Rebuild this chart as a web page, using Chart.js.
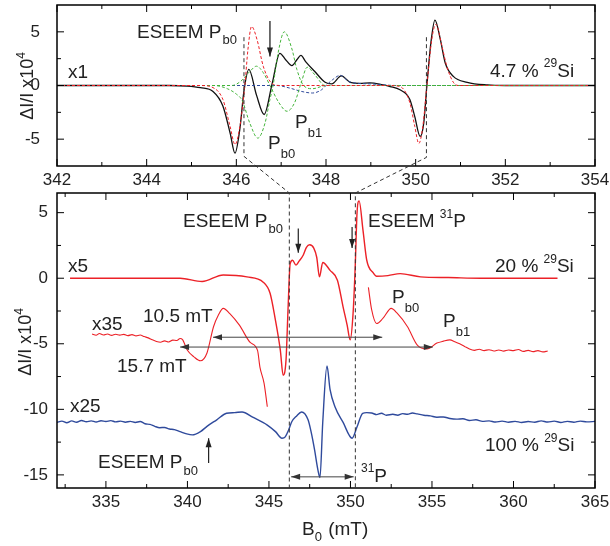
<!DOCTYPE html>
<html lang="en">
<head>
<meta charset="UTF-8">
<title>ESEEM Pb0 / 31P spectra</title>
<script src="https://cdn.jsdelivr.net/npm/chart.js@4"></script>
<style>
  body { margin: 0; background: #fff; }
  #wrap { position: relative; width: 610px; height: 546px; }
  canvas { position: absolute; left: 0; top: 0; }
</style>
</head>
<body>
<div id="wrap">
  <canvas id="topChart" width="610" height="546"></canvas>
  <canvas id="bottomChart" width="610" height="546"></canvas>
</div>
<script>
// ---- top panel (4.7 % 29Si), x1 ----
var topXTicks = [342, 344, 346, 348, 350, 352, 354];
var topXMinor = [343, 345, 347, 349, 351, 353];
var topYTicks = [-5, 0, 5];
var topYMinor = [-2.5, 2.5];

var blackX = [342, 344.5, 344.9, 345.2, 345.48, 345.7, 345.86, 345.97, 346.08, 346.17, 346.28, 346.45, 346.62, 346.8, 346.97, 347.1, 347.24, 347.35, 347.44, 347.55, 347.75, 347.98, 348.13, 348.34, 348.54, 348.75, 348.98, 349.27, 349.43, 349.65, 349.87, 349.98, 350.1, 350.18, 350.25, 350.34, 350.43, 350.55, 350.66, 350.84, 351.15, 351.6, 352, 354];
var blackY = [0, 0, -0.05, -0.2, -0.55, -1.9, -4.4, -6.3, -4.0, -0.5, 1.5, -0.9, -2.7, 0.2, 3.0, 2.4, 1.85, 2.4, 2.8, 2.2, 1.3, 0.3, 0.15, 0.9, 0.3, 0.2, 0.25, 0.05, -0.1, -0.4, -1.3, -2.9, -4.75, -3.5, 0, 4.0, 6.1, 4.3, 2.1, 0.85, 0.3, 0.05, 0, 0];

var redX = [342, 345.2, 345.48, 345.7, 345.86, 345.97, 346.08, 346.19, 346.26, 346.34, 346.46, 346.6, 346.75, 346.97, 349.4, 349.65, 349.87, 349.98, 350.07, 350.16, 350.25, 350.36, 350.45, 350.59, 350.7, 350.84, 350.95, 354];
var redY = [0, 0, -0.2, -1.3, -3.8, -5.5, -3.8, 0, 3.4, 5.5, 4.3, 1.8, 0.4, 0, 0, -0.1, -1.6, -3.8, -5.4, -3.8, 0, 4.3, 5.7, 3.6, 1.7, 0.3, 0, 0];

var greenAX = [342, 345.5, 345.8, 346.0, 346.13, 346.3, 346.48, 346.64, 346.75, 346.82, 346.93, 347.07, 347.24, 347.35, 347.5, 347.7, 348.0, 354];
var greenAY = [0, 0, -0.3, -0.8, -1.4, -3.5, -4.9, -3.5, -1.3, 0, 3.0, 5.0, 3.4, 1.5, 0, -0.3, 0, 0];

var greenBX = [342, 345.9, 346.1, 346.3, 346.45, 346.6, 346.75, 346.95, 347.13, 347.3, 347.45, 347.58, 347.75, 347.98, 354];
var greenBY = [0, 0, 0.4, 1.3, 1.8, 1.2, 0, -1.6, -2.4, -1.6, 0.3, 1.7, 1.0, 0, 0];

var blueTopX = [342, 346.9, 347.2, 347.45, 347.7, 347.9, 348.0, 348.15, 348.32, 348.5, 348.7, 349.0, 349.3, 349.6, 354];
var blueTopY = [0, 0, -0.25, -0.55, -0.7, -0.4, 0, 0.55, 0.95, 0.4, 0.2, 0.15, 0.05, 0, 0];

// ---- bottom panel ----
var botXTicks = [335, 340, 345, 350, 355, 360, 365];
var botXMinor = [332.5, 337.5, 342.5, 347.5, 352.5, 357.5, 362.5];
var botYTicks = [-15, -10, -5, 0, 5];
var botYMinor = [-12.5, -7.5, -2.5, 2.5];

// 20 % 29Si, x5
var x5X = [332.8, 336, 339.55, 340.9, 342.2, 343.65, 344.65, 345.07, 345.37, 345.7, 345.87, 346.05, 346.17, 346.3, 346.45, 346.66, 346.85, 347.1, 347.3, 347.5, 347.75, 347.93, 348.1, 348.3, 348.75, 349.2, 349.55, 349.8, 349.98, 350.16, 350.3, 350.4, 350.53, 350.77, 351.0, 351.4, 351.6, 352.3, 353.05, 354.3, 356, 358, 362.7];
var x5Y = [0, 0, 0, -0.25, 0.25, 0.1, -0.3, -1.15, -3.0, -5.5, -7.4, -6.2, -2.4, 1.1, 1.37, 1.0, 1.3, 1.75, 2.36, 2.55, 2.3, 1.6, 0.1, 1.2, 0.6, -0.15, -2.2, -3.6, -4.7, -2.7, 1.15, 4.9, 5.9, 3.65, 1.37, 0.4, 0.15, 0.2, 0.35, 0.1, 0.05, 0, 0];

// 20 % 29Si, x35 (two pieces, gap in the middle)
var x35X = [334.15, 334.4, 334.6, 334.85, 335.1, 335.35, 335.6, 335.85, 336.1, 336.35, 336.6, 336.85, 337.1, 337.35, 337.6, 337.85, 338.1, 338.35, 338.6, 338.85, 339.1, 339.35, 339.55, 339.7, 340.0, 340.4, 340.8, 341.2, 341.6, 341.9, 342.2, 342.6, 343.2, 343.85, 344.3, 344.45, 344.7, 344.9,
            348,
            351.1, 351.3, 351.6, 352.0, 352.5, 352.85, 353.5, 354.1, 354.7, 355.3, 355.7, 356.1, 356.4, 356.7, 357.0, 357.3, 357.6, 357.9, 358.2, 358.5, 358.8, 359.1, 359.4, 359.7, 360.0, 360.3, 360.6, 360.9, 361.2, 361.5, 361.8, 362.1];
var x35Y = [-4.26, -4.35, -4.22, -4.33, -4.25, -4.36, -4.27, -4.34, -4.28, -4.38, -4.3, -4.4, -4.33, -4.45, -4.55, -4.7, -4.82, -4.88, -4.78, -4.86, -4.72, -4.75, -4.6, -4.68, -5.5, -6.0, -6.3, -5.7, -3.7, -2.8, -2.3, -2.7, -3.6, -4.9, -5.5, -6.8, -8.0, -9.8,
            null,
            -0.7, -2.4, -3.45, -3.05, -2.3, -2.65, -3.7, -5.1, -5.4, -4.95, -4.8, -4.7, -4.85, -5.0, -5.2, -5.4, -5.5, -5.42, -5.52, -5.45, -5.55, -5.47, -5.56, -5.48, -5.52, -5.44, -5.58, -5.5, -5.6, -5.52, -5.62, -5.55];

// 100 % 29Si, x25
var x25X = [332, 332.3, 332.6, 332.9, 333.2, 333.5, 333.8, 334.1, 334.4, 334.7, 335.0, 335.3, 335.6, 335.9, 336.2, 336.5, 336.8, 337.1, 337.4, 337.7, 338.0, 338.3, 338.6, 338.9, 339.2, 339.55, 339.9, 340.3, 340.8, 341.2, 341.8, 342.4, 342.9, 343.35, 344.0, 344.9, 345.4, 345.8, 346.0, 346.2, 346.4, 346.7, 347.0, 347.4, 347.6, 347.8, 348.0, 348.13, 348.3, 348.56, 348.75, 349.05, 349.55, 350.1, 350.4, 350.75, 351.0, 351.3, 351.6, 351.9, 352.2, 352.6, 352.9, 353.2, 353.5, 353.8, 354.1, 354.5, 354.9, 355.3, 355.7, 356.1, 356.5, 356.9, 357.3, 357.7, 358.1, 358.5, 358.9, 359.3, 359.7, 360.1, 360.5, 360.9, 361.3, 361.7, 362.1, 362.5, 362.9, 363.3, 363.7, 364.1, 364.5, 365];
var x25Y = [-11.0, -10.9, -11.02, -10.88, -10.98, -10.85, -10.95, -10.88, -10.97, -10.87, -10.93, -10.86, -10.96, -10.9, -10.98, -10.92, -11.0, -10.93, -11.1, -11.15, -11.3, -11.4, -11.38, -11.5, -11.55, -11.7, -11.85, -11.95, -11.7, -11.3, -10.8, -10.3, -10.25, -10.2, -10.6, -11.2, -11.7, -12.2, -12.1, -11.6, -10.95, -10.5, -10.2, -10.8, -11.8, -13.1, -14.6, -15.2, -11.0, -6.7, -8.5, -9.8, -11.0, -12.2, -11.35, -10.3, -10.25, -10.28, -10.4, -10.3, -10.45, -10.38, -10.45, -10.33, -10.38, -10.28, -10.35, -10.45, -10.5, -10.6, -10.58, -10.7, -10.75, -10.72, -10.85, -10.8, -10.92, -10.88, -10.97, -10.9, -10.98, -10.92, -11.0, -10.93, -10.98, -10.88, -10.97, -10.9, -11.0, -10.92, -10.98, -10.9, -10.96, -10.92];

var RED = '#ec2127', BLUE = '#2f4a9c', GREEN = '#43b43a', FONT = "'Liberation Sans', Arial, sans-serif";

function pts(xs, ys) { return xs.map(function (x, i) { return { x: x, y: ys[i] }; }); }

function line(label, xs, ys, color, width, dash) {
  return {
    label: label, data: pts(xs, ys), borderColor: color, borderWidth: width,
    borderDash: dash || [], pointRadius: 0, fill: false, spanGaps: false,
    cubicInterpolationMode: 'monotone'
  };
}

function richText(ctx, x, y, parts) {
  parts.forEach(function (p) {
    ctx.font = p[1] + 'px ' + FONT;
    ctx.fillText(p[0], x, y + (p[2] || 0));
    x += ctx.measureText(p[0]).width + (p[3] || 0);
  });
}

function arrow(ctx, x1, y1, x2, y2, both) {
  ctx.beginPath(); ctx.moveTo(x1, y1); ctx.lineTo(x2, y2); ctx.stroke();
  function head(xa, ya, xb, yb) {
    var ang = Math.atan2(yb - ya, xb - xa), L = 9, W = 3;
    ctx.beginPath();
    ctx.moveTo(xb, yb);
    ctx.lineTo(xb - L * Math.cos(ang) + W * Math.sin(ang), yb - L * Math.sin(ang) - W * Math.cos(ang));
    ctx.lineTo(xb - L * Math.cos(ang) - W * Math.sin(ang), yb - L * Math.sin(ang) + W * Math.cos(ang));
    ctx.closePath(); ctx.fill();
  }
  head(x1, y1, x2, y2);
  if (both) head(x2, y2, x1, y1);
}

function frame(chart, xMaj, xMin, yMaj, yMin) {
  var ctx = chart.ctx, a = chart.chartArea, sx = chart.scales.x, sy = chart.scales.y;
  ctx.save();
  ctx.strokeStyle = '#000'; ctx.lineWidth = 1;
  ctx.beginPath();
  function xt(v, len) { var p = sx.getPixelForValue(v); ctx.moveTo(p, a.bottom); ctx.lineTo(p, a.bottom - len); ctx.moveTo(p, a.top); ctx.lineTo(p, a.top + len); }
  function yt(v, len) { var p = sy.getPixelForValue(v); ctx.moveTo(a.left, p); ctx.lineTo(a.left + len, p); ctx.moveTo(a.right, p); ctx.lineTo(a.right - len, p); }
  xMaj.forEach(function (v) { xt(v, 7); }); xMin.forEach(function (v) { xt(v, 4); });
  yMaj.forEach(function (v) { yt(v, 7); }); yMin.forEach(function (v) { yt(v, 4); });
  ctx.stroke();
  ctx.lineWidth = 1.5;
  ctx.strokeRect(a.left, a.top, a.right - a.left, a.bottom - a.top);
  ctx.restore();
}

function yTitle(ctx, cx, cy) {
  ctx.save();
  ctx.translate(cx, cy); ctx.rotate(-Math.PI / 2);
  ctx.fillStyle = '#222';
  ctx.font = '18px ' + FONT;
  var w = ctx.measureText('\u0394I/I x10').width;
  ctx.font = '12px ' + FONT;
  w += ctx.measureText('4').width;
  richText(ctx, -w / 2, 0, [['\u0394I/I x10', 18], ['4', 12, -8]]);
  ctx.restore();
}

function scales(xMin, xMax, xTicks, yMin, yMax, yTicks, yPad) {
  var tickFont = { family: FONT, size: 17 };
  return {
    x: {
      type: 'linear', min: xMin, max: xMax,
      afterBuildTicks: function (s) { s.ticks = xTicks.map(function (v) { return { value: v }; }); },
      afterFit: function (s) { s.height = 30; s.paddingLeft = 0; s.paddingRight = 0; },
      grid: { display: false, drawTicks: false }, border: { display: false },
      ticks: { color: '#222', font: tickFont, padding: 4, maxRotation: 0, autoSkip: false, callback: function (v) { return String(v); } }
    },
    y: {
      type: 'linear', min: yMin, max: yMax,
      afterBuildTicks: function (s) { s.ticks = yTicks.map(function (v) { return { value: v }; }); },
      afterFit: function (s) { s.width = 57; s.paddingTop = 0; s.paddingBottom = 0; },
      grid: { display: false, drawTicks: false }, border: { display: false },
      ticks: { color: '#222', font: tickFont, padding: yPad, autoSkip: false, callback: function (v) { return String(v); } }
    }
  };
}

var common = { responsive: false, animation: false, devicePixelRatio: 1, events: [],
  plugins: { legend: { display: false }, tooltip: { enabled: false } } };

var topChart = new Chart(document.getElementById('topChart'), {
  type: 'line',
  data: { datasets: [
    line('31P fit', redX, redY, RED, 1, [3, 2]),
    line('Pb0 a', greenAX, greenAY, GREEN, 1, [3, 2]),
    line('Pb0 b', greenBX, greenBY, GREEN, 1, [3, 2]),
    line('Pb1', blueTopX, blueTopY, BLUE, 1, [3, 2]),
    line('4.7 % 29Si', blackX, blackY, '#111', 1.3)
  ] },
  options: Object.assign({}, common, {
    layout: { padding: { left: 0, right: 15, top: 5, bottom: 350 } },
    scales: scales(342, 354, topXTicks, -7.5, 7.5, topYTicks, 17)
  }),
  plugins: [{
    id: 'topDeco',
    afterDatasetsDraw: function (chart) {
      var ctx = chart.ctx, sx = chart.scales.x, sy = chart.scales.y;
      frame(chart, topXTicks, topXMinor, topYTicks, topYMinor);
      ctx.save();
      ctx.fillStyle = '#222'; ctx.strokeStyle = '#111'; ctx.lineWidth = 1.2;
      arrow(ctx, sx.getPixelForValue(346.75), sy.getPixelForValue(6.0), sx.getPixelForValue(346.75), sy.getPixelForValue(2.7));
      richText(ctx, 137, 38, [['ESEEM P', 19, 0, 1], ['b0', 13, 6]]);
      richText(ctx, 68, 78, [['x1', 19]]);
      richText(ctx, 268, 149, [['P', 19], ['b0', 13, 9]]);
      richText(ctx, 295, 128, [['P', 19], ['b1', 13, 9]]);
      richText(ctx, 490, 77, [['4.7 % ', 19], ['29', 12, -10], ['Si', 19]]);
      yTitle(ctx, 33, 86);
      ctx.restore();
    }
  }]
});

var bottomChart = new Chart(document.getElementById('bottomChart'), {
  type: 'line',
  data: { datasets: [
    line('20 % 29Si x5', x5X, x5Y, RED, 1.4),
    line('20 % 29Si x35', x35X, x35Y, RED, 1.1),
    line('100 % 29Si x25', x25X, x25Y, BLUE, 1.4)
  ] },
  options: Object.assign({}, common, {
    layout: { padding: { left: 0, right: 15, top: 193, bottom: 28 } },
    scales: scales(332, 365, botXTicks, -16, 6.5, botYTicks, 9)
  }),
  plugins: [{
    id: 'bottomDeco',
    afterDatasetsDraw: function (chart) {
      var ctx = chart.ctx, sx = chart.scales.x, sy = chart.scales.y, a = chart.chartArea;
      var tx = topChart.scales.x, ty = topChart.scales.y;
      frame(chart, botXTicks, botXMinor, botYTicks, botYMinor);
      ctx.save();
      // dashed guides linking the two panels
      ctx.strokeStyle = '#333'; ctx.lineWidth = 1; ctx.setLineDash([4, 3]);
      [[346.17, 346.25, -6.6], [350.24, 350.3, -6.7]].forEach(function (g) {
        ctx.beginPath();
        ctx.moveTo(tx.getPixelForValue(g[0]), ty.getPixelForValue(4.5));
        ctx.lineTo(tx.getPixelForValue(g[0]), ty.getPixelForValue(g[2]));
        ctx.lineTo(sx.getPixelForValue(g[1]), a.top);
        ctx.lineTo(sx.getPixelForValue(g[1]), a.bottom);
        ctx.stroke();
      });
      ctx.setLineDash([]);
      // arrows
      ctx.fillStyle = '#222'; ctx.strokeStyle = '#222'; ctx.lineWidth = 1.2;
      arrow(ctx, sx.getPixelForValue(346.8), sy.getPixelForValue(3.8), sx.getPixelForValue(346.8), sy.getPixelForValue(1.95));
      arrow(ctx, sx.getPixelForValue(350.1), sy.getPixelForValue(3.9), sx.getPixelForValue(350.1), sy.getPixelForValue(2.3));
      arrow(ctx, sx.getPixelForValue(341.3), sy.getPixelForValue(-14.1), sx.getPixelForValue(341.3), sy.getPixelForValue(-12.2));
      ctx.strokeStyle = '#444'; ctx.fillStyle = '#333'; ctx.lineWidth = 1;
      arrow(ctx, sx.getPixelForValue(341.57), sy.getPixelForValue(-4.5), sx.getPixelForValue(351.95), sy.getPixelForValue(-4.5), true);
      arrow(ctx, sx.getPixelForValue(339.55), sy.getPixelForValue(-5.25), sx.getPixelForValue(355.05), sy.getPixelForValue(-5.25), true);
      arrow(ctx, sx.getPixelForValue(346.36), sy.getPixelForValue(-15.15), sx.getPixelForValue(350.2), sy.getPixelForValue(-15.15), true);
      // labels
      ctx.fillStyle = '#222';
      richText(ctx, 183, 227, [['ESEEM P', 19, 0, 1], ['b0', 13, 6]]);
      richText(ctx, 368, 227, [['ESEEM ', 19], ['31', 12, -9], ['P', 19]]);
      richText(ctx, 68, 272, [['x5', 19]]);
      richText(ctx, 495, 272, [['20 % ', 19], ['29', 12, -9], ['Si', 19]]);
      richText(ctx, 92, 330, [['x35', 19]]);
      richText(ctx, 143, 322, [['10.5 mT', 19]]);
      richText(ctx, 117, 372, [['15.7 mT', 19]]);
      richText(ctx, 392, 303, [['P', 19], ['b0', 13, 9]]);
      richText(ctx, 443, 327, [['P', 19], ['b1', 13, 9]]);
      richText(ctx, 70, 412, [['x25', 19]]);
      richText(ctx, 98, 468, [['ESEEM P', 19, 0, 1], ['b0', 13, 7]]);
      richText(ctx, 485, 451, [['100 % ', 19], ['29', 12, -9], ['Si', 19]]);
      richText(ctx, 361, 482, [['31', 12, -10], ['P', 19]]);
      richText(ctx, 302, 535, [['B', 19], ['0', 13, 6, 1], [' (mT)', 19]]);
      yTitle(ctx, 31, 342);
      ctx.restore();
    }
  }]
});
</script>
</body>
</html>
